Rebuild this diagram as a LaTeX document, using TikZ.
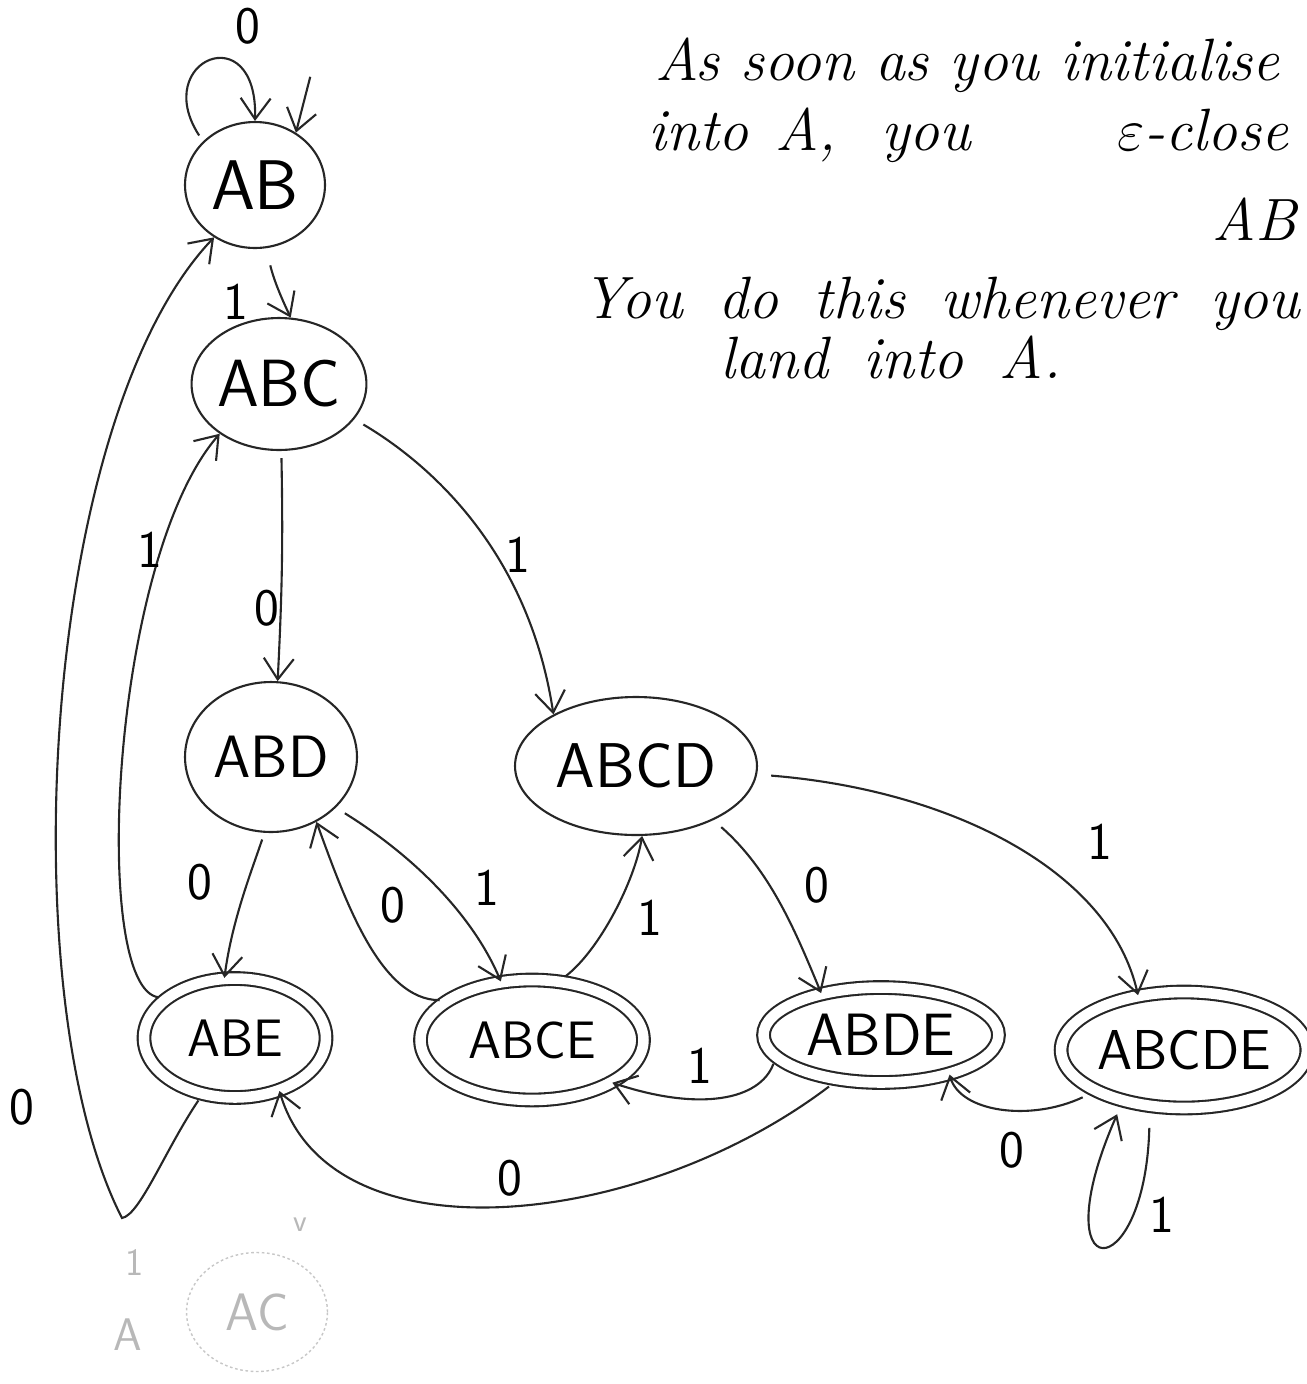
\RequirePackage{fix-cm}
\documentclass[tikz,border=0pt]{standalone}
\usetikzlibrary{shapes.geometric,arrows.meta}
\newcommand{\widewords}{\spaceskip=0.6em\relax}
\begin{document}
\begin{tikzpicture}[x=0.02cm,y=-0.02cm,
  pen/.style={draw=black!85, line width=1.2pt},
  arr/.style={pen, -{Straight Barb[length=0.42cm,width=0.6cm]}, shorten <=4pt},
  fs/.style={font=\sffamily\fontsize{#1}{#1}\selectfont},
  state/.style={ellipse, pen, inner sep=0pt},
  acc/.style={state, double, double distance=6pt},
  lbl/.style={fs=30, inner sep=0pt},
  note/.style={font=\itshape\fontsize{34}{40}\selectfont, anchor=base west, inner sep=0pt},
  faint/.style={draw=black!22, text=black!28, line width=0.8pt, dash pattern=on 1.5pt off 1.5pt}
]
\useasboundingbox (0,0) rectangle (1307,1384);

% states
\node[state, minimum width=2.8cm, minimum height=2.52cm, fs=40] (AB) at (255,185) {AB};
\node[state, minimum width=3.44cm, minimum height=2.64cm, fs=38] (ABC) at (279,384) {ABC};
\node[state, minimum width=3.44cm, minimum height=3.0cm, fs=34] (ABD) at (271,757) {ABD};
\node[state, minimum width=4.84cm, minimum height=2.76cm, fs=36] (ABCD) at (636,766) {ABCD};
\node[acc, minimum width=3.64cm, minimum height=2.38cm, fs=30] (ABE) at (235,1038) {ABE};
\node[acc, minimum width=4.46cm, minimum height=2.4cm, fs=30] (ABCE) at (532,1040) {ABCE};
\node[acc, minimum width=4.7cm, minimum height=1.9cm, fs=34] (ABDE) at (881,1035) {ABDE};
\node[acc, minimum width=4.28cm, minimum height=2.32cm, fs=32] (ABCDE) at (1184,1050) {ABCDE};
\node[ellipse, faint, minimum width=2.82cm, minimum height=2.38cm, fs=30] (AC) at (257,1312) {AC};

% free ends
\coordinate (start) at (312,70);
\coordinate (v) at (122,1218);

% connectors
\draw[arr] (AB.140) .. controls (150,60) and (258,15) .. (AB.90);
\draw[arr] (start) -- (AB.52);
\draw[arr, shorten <=10pt] (AB.-80) to[bend right=6] (ABC.80);
\draw[arr] (ABC.-88) to[bend left=2] (ABD.85);
\draw[arr, shorten <=6pt] (ABC.-25) .. controls (440,470) and (530,560) .. (ABCD.148);
\draw[arr] (ABE.150) .. controls (90,990) and (110,560) .. (ABC.-140);
\draw[arr] (ABE.-120) .. controls (165,1150) and (140,1215) .. (v)
   .. controls (10,1000) and (40,420) .. (AB.-128);
\draw[arr] (ABD.-95) .. controls (252,870) and (232,920) .. (ABE.100);
\draw[arr, shorten <=6pt] (ABD.-38) .. controls (420,860) and (475,920) .. (ABCE.118);
\draw[arr] (ABCE.155) .. controls (380,1000) and (345,900) .. (ABD.-55);
\draw[arr] (ABCE.65) .. controls (600,950) and (635,880) .. (ABCD.-85);
\draw[arr, shorten <=6pt] (ABCD.-35) .. controls (770,870) and (795,930) .. (ABDE.145);
\draw[arr, shorten <=8pt] (ABCD.-4) .. controls (950,790) and (1110,870) .. (ABCDE.130);
\draw[arr, shorten <=4pt] (ABDE.-168) .. controls (760,1100) and (700,1112) .. (ABCE.-28);
\draw[arr, shorten <=6pt] (ABDE.-134) .. controls (640,1230) and (330,1262) .. (ABE.-50);
\draw[arr, shorten <=8pt] (ABCDE.-155) .. controls (1030,1122) and (960,1112) .. (ABDE.-30);
\draw[arr, shorten <=12pt, shorten >=8pt] (ABCDE.-121) .. controls (1145,1290) and (1040,1290) .. (ABCDE.-140);

% connector labels
\node[lbl] (l1) at (248,26) {0};
\node[lbl] (l2) at (236,302) {1};
\node[lbl] (l3) at (267,608) {0};
\node[lbl] (l4) at (518,555) {1};
\node[lbl] (l5) at (150,550) {1};
\node[lbl] (l6) at (22,1107) {0};
\node[lbl] (l7) at (200,882) {0};
\node[lbl] (l8) at (487,888) {1};
\node[lbl] (l9) at (393,905) {0};
\node[lbl] (l10) at (650,918) {1};
\node[lbl] (l11) at (817,885) {0};
\node[lbl] (l12) at (1100,842) {1};
\node[lbl] (l13) at (700,1066) {1};
\node[lbl] (l14) at (510,1178) {0};
\node[lbl] (l15) at (1012,1150) {0};
\node[lbl] (l16) at (1162,1215) {1};

% faint erased marks
\node[fs=26, text=black!28] (fA) at (128,1335) {A};
\node[fs=22, text=black!28] (f1) at (135,1262) {1};
\node[fs=18, text=black!28] (fv) at (300,1225) {v};

% note
\node[note] (n1) at (655,80) {As soon as you initialise};
\node[note] (n2) at (648,150) {into\hspace{0.1em} A,\hspace{0.4em} you\hspace{2.1em} $\varepsilon$-close};
\node[note] (n3) at (1212,240) {AB};
\node[note] (n4) at (582,318) {\widewords You do this whenever you};
\node[note] (n5) at (720,378) {\widewords land into A.};
\end{tikzpicture}
\end{document}
